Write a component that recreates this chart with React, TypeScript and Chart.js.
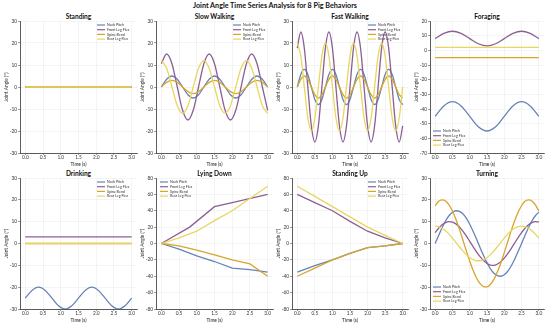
import React, { useEffect, useRef } from "react";
import { Chart, registerables } from "chart.js";

Chart.register(...registerables);

const FONT = "Lato, 'Open Sans', sans-serif";

const SERIES_NAMES = ["Neck Pitch", "Front Leg Flex", "Spine Bend", "Rear Leg Flex"];
const SERIES_COLORS = ["#6683b8", "#8c5f94", "#d6a62a", "#e8d660"];
const X_TICKS = [0, 0.5, 1, 1.5, 2, 2.5, 3];

// Standing
const STAND_T = [0, 0.5, 1, 1.5, 2, 2.5, 3];
const STAND_NECK = [0, 0, 0, 0, 0, 0, 0];
const STAND_FRONT = [0, 0, 0, 0, 0, 0, 0];
const STAND_SPINE = [0, 0, 0, 0, 0, 0, 0];
const STAND_REAR = [0, 0, 0, 0, 0, 0, 0];

// Slow Walking
const SLOW_T = [0, 0.15, 0.3, 0.45, 0.6, 0.75, 0.9, 1.05, 1.2, 1.35, 1.5, 1.65, 1.8, 1.95, 2.1, 2.25, 2.4, 2.55, 2.7, 2.85, 3.0];
const SLOW_NECK = [0, 3.5, 5, 3.5, 0, -3.5, -5, -3.5, 0, 3.5, 5, 3.5, 0, -3.5, -5, -3.5, 0, 3.5, 5, 3.5, 0];
const SLOW_FRONT = [10.6, 15, 10.6, 0, -10.6, -15, -10.6, 0, 10.6, 15, 10.6, 0, -10.6, -15, -10.6, 0, 10.6, 15, 10.6, 0, -10.6];
const SLOW_SPINE = [0, 2.1, 3, 2.1, 0, -2.1, -3, -2.1, 0, 2.1, 3, 2.1, 0, -2.1, -3, -2.1, 0, 2.1, 3, 2.1, 0];
const SLOW_REAR = [12, 8.5, 0, -8.5, -12, -8.5, 0, 8.5, 12, 8.5, 0, -8.5, -12, -8.5, 0, 8.5, 12, 8.5, 0, -8.5, -12];

// Fast Walking
const FAST_T = [0, 0.1, 0.2, 0.3, 0.4, 0.5, 0.6, 0.7, 0.8, 0.9, 1.0, 1.1, 1.2, 1.3, 1.4, 1.5, 1.6, 1.7, 1.8, 1.9, 2.0, 2.1, 2.2, 2.3, 2.4, 2.5, 2.6, 2.7, 2.8, 2.9, 3.0];
const FAST_NECK = [0, 5.7, 8, 5.7, 0, -5.7, -8, -5.7, 0, 5.7, 8, 5.7, 0, -5.7, -8, -5.7, 0, 5.7, 8, 5.7, 0, -5.7, -8, -5.7, 0, 5.7, 8, 5.7, 0, -5.7, -8];
const FAST_FRONT = [17.7, 25, 17.7, 0, -17.7, -25, -17.7, 0, 17.7, 25, 17.7, 0, -17.7, -25, -17.7, 0, 17.7, 25, 17.7, 0, -17.7, -25, -17.7, 0, 17.7, 25, 17.7, 0, -17.7, -25, -17.7];
const FAST_SPINE = [0, 3.5, 5, 3.5, 0, -3.5, -5, -3.5, 0, 3.5, 5, 3.5, 0, -3.5, -5, -3.5, 0, 3.5, 5, 3.5, 0, -3.5, -5, -3.5, 0, 3.5, 5, 3.5, 0, -3.5, -5];
const FAST_REAR = [20, 14.1, 0, -14.1, -20, -14.1, 0, 14.1, 20, 14.1, 0, -14.1, -20, -14.1, 0, 14.1, 20, 14.1, 0, -14.1, -20, -14.1, 0, 14.1, 20, 14.1, 0, -14.1, -20, -14.1, 0];

// Foraging
const FORAGE_T = [0, 0.25, 0.5, 0.75, 1, 1.25, 1.5, 1.75, 2, 2.25, 2.5, 2.75, 3];
const FORAGE_NECK = [-45, -37.9, -35, -37.9, -45, -52.1, -55, -52.1, -45, -37.9, -35, -37.9, -45];
const FORAGE_FRONT = [8, 11.5, 13, 11.5, 8, 4.5, 3, 4.5, 8, 11.5, 13, 11.5, 8];
const FORAGE_SPINE = [-5, -5, -5, -5, -5, -5, -5, -5, -5, -5, -5, -5, -5];
const FORAGE_REAR = [2, 2, 2, 2, 2, 2, 2, 2, 2, 2, 2, 2, 2];

// Drinking
const DRINK_T = [0, 0.1875, 0.375, 0.5625, 0.75, 0.9375, 1.125, 1.3125, 1.5, 1.6875, 1.875, 2.0625, 2.25, 2.4375, 2.625, 2.8125, 3];
const DRINK_NECK = [-25, -21.5, -20, -21.5, -25, -28.5, -30, -28.5, -25, -21.5, -20, -21.5, -25, -28.5, -30, -28.5, -25];
const DRINK_FRONT = [3, 3, 3, 3, 3, 3, 3, 3, 3, 3, 3, 3, 3, 3, 3, 3, 3];
const DRINK_SPINE = [0, 0, 0, 0, 0, 0, 0, 0, 0, 0, 0, 0, 0, 0, 0, 0, 0];
const DRINK_REAR = [0, 0, 0, 0, 0, 0, 0, 0, 0, 0, 0, 0, 0, 0, 0, 0, 0];

// Lying Down
const LIE_T = [0, 0.5, 1, 1.5, 2, 2.5, 3];
const LIE_FRONT_T = [0, 0.8, 1.5, 2, 3];
const LIE_NECK = [0, -7, -15, -22, -30, -32, -35];
const LIE_FRONT = [0, 20, 45, 50, 60];
const LIE_SPINE = [0, -3, -8, -14, -20, -25, -40];
const LIE_REAR = [0, 7, 15, 28, 40, 55, 70];

// Standing Up
const UP_T = [0, 0.5, 1, 1.5, 2, 2.5, 3];
const UP_NECK = [-35, -27, -20, -12, -5, -3, 0];
const UP_FRONT = [60, 50, 40, 27, 15, 7, 0];
const UP_SPINE = [-40, -30, -20, -12, -5, -3, 0];
const UP_REAR = [70, 57.5, 45, 32.5, 20, 10, 0];

// Turning
const TURN_T = [0, 0.1, 0.2, 0.3, 0.4, 0.5, 0.6, 0.7, 0.8, 0.9, 1.0, 1.1, 1.2, 1.3, 1.4, 1.5, 1.6, 1.7, 1.8, 1.9, 2.0, 2.1, 2.2, 2.3, 2.4, 2.5, 2.6, 2.7, 2.8, 2.9, 3.0];
const TURN_NECK = [0, 3.7, 7.2, 10.3, 12.7, 14.3, 15.0, 14.7, 13.6, 11.6, 8.8, 5.5, 1.9, -1.9, -5.5, -8.8, -11.6, -13.6, -14.7, -15.0, -14.3, -12.7, -10.3, -7.2, -3.7, 0, 3.7, 7.2, 10.3, 12.7, 14.3];
const TURN_FRONT = [5, 7.0, 8.6, 9.6, 10.0, 9.8, 9.0, 7.6, 5.7, 3.5, 1.0, -1.5, -3.9, -6.0, -7.8, -9.1, -9.9, -10.0, -9.4, -8.3, -6.7, -4.6, -2.3, 0.2, 2.7, 5.0, 7.0, 8.6, 9.6, 10.0, 9.8];
const TURN_SPINE = [17.3, 19.3, 20.0, 19.5, 17.7, 14.9, 11.1, 6.6, 1.7, -3.3, -8.1, -12.4, -15.9, -18.4, -19.8, -19.9, -18.7, -16.4, -13.1, -8.9, -4.2, 0.8, 5.8, 10.4, 14.3, 17.3, 19.3, 20.0, 19.5, 17.7, 14.9];
const TURN_REAR = [8, 7.7, 7.0, 5.8, 4.3, 2.5, 0.5, -1.5, -3.4, -5.1, -6.5, -7.4, -7.9, -7.9, -7.4, -6.5, -5.1, -3.4, -1.5, 0.5, 2.5, 4.3, 5.8, 7.0, 7.7, 8, 7.7, 7.0, 5.8, 4.3, 2.5];

// Layout
const COL_LEFT = [20, 156, 292, 430];
const COL_WIDTH = [117, 117, 116, 114];
const ROW_TOP = [21, 178];
const ROW_HEIGHT = [132, 131];
const Y_AXIS_W = 16;
const X_AXIS_H = 14;
const PAD_T = 4;
const PAD_R = 4;

type Panel = {
  title: string;
  times: number[][];
  series: number[][];
  yMin: number;
  yMax: number;
  yStep: number;
  legend: "ur" | "ul" | "ll";
  smooth: boolean;
  col: number;
  row: number;
};

const PANELS: Panel[] = [
  { title: "Standing", times: [STAND_T, STAND_T, STAND_T, STAND_T], series: [STAND_NECK, STAND_FRONT, STAND_SPINE, STAND_REAR], yMin: -30, yMax: 30, yStep: 10, legend: "ur", smooth: false, col: 0, row: 0 },
  { title: "Slow Walking", times: [SLOW_T, SLOW_T, SLOW_T, SLOW_T], series: [SLOW_NECK, SLOW_FRONT, SLOW_SPINE, SLOW_REAR], yMin: -30, yMax: 30, yStep: 10, legend: "ur", smooth: true, col: 1, row: 0 },
  { title: "Fast Walking", times: [FAST_T, FAST_T, FAST_T, FAST_T], series: [FAST_NECK, FAST_FRONT, FAST_SPINE, FAST_REAR], yMin: -30, yMax: 30, yStep: 10, legend: "ur", smooth: true, col: 2, row: 0 },
  { title: "Foraging", times: [FORAGE_T, FORAGE_T, FORAGE_T, FORAGE_T], series: [FORAGE_NECK, FORAGE_FRONT, FORAGE_SPINE, FORAGE_REAR], yMin: -70, yMax: 20, yStep: 10, legend: "ll", smooth: true, col: 3, row: 0 },
  { title: "Drinking", times: [DRINK_T, DRINK_T, DRINK_T, DRINK_T], series: [DRINK_NECK, DRINK_FRONT, DRINK_SPINE, DRINK_REAR], yMin: -30, yMax: 30, yStep: 10, legend: "ur", smooth: true, col: 0, row: 1 },
  { title: "Lying Down", times: [LIE_T, LIE_FRONT_T, LIE_T, LIE_T], series: [LIE_NECK, LIE_FRONT, LIE_SPINE, LIE_REAR], yMin: -80, yMax: 80, yStep: 20, legend: "ul", smooth: false, col: 1, row: 1 },
  { title: "Standing Up", times: [UP_T, UP_T, UP_T, UP_T], series: [UP_NECK, UP_FRONT, UP_SPINE, UP_REAR], yMin: -80, yMax: 80, yStep: 20, legend: "ur", smooth: false, col: 2, row: 1 },
  { title: "Turning", times: [TURN_T, TURN_T, TURN_T, TURN_T], series: [TURN_NECK, TURN_FRONT, TURN_SPINE, TURN_REAR], yMin: -30, yMax: 30, yStep: 10, legend: "ll", smooth: true, col: 3, row: 1 },
];

const cornerLegend = {
  id: "cornerLegend",
  afterDatasetsDraw(chart: any, _args: any, opts: any) {
    const pos = opts && opts.position;
    if (!pos) return;
    const { ctx, chartArea } = chart;
    const rowH = 4.7;
    let x0: number;
    let y0: number;
    if (pos === "ur") {
      x0 = chartArea.right - 40;
      y0 = chartArea.top + 4;
    } else if (pos === "ul") {
      x0 = chartArea.left + 4;
      y0 = chartArea.top + 4;
    } else {
      x0 = chartArea.left + 3;
      y0 = chartArea.bottom - 22;
    }
    ctx.save();
    ctx.font = `3.6px ${FONT}`;
    ctx.textBaseline = "middle";
    ctx.textAlign = "left";
    SERIES_NAMES.forEach((name, i) => {
      const y = y0 + i * rowH;
      ctx.strokeStyle = SERIES_COLORS[i];
      ctx.lineWidth = 1.2;
      ctx.beginPath();
      ctx.moveTo(x0, y);
      ctx.lineTo(x0 + 8, y);
      ctx.stroke();
      ctx.fillStyle = "#333";
      ctx.fillText(name, x0 + 10, y);
    });
    ctx.restore();
  },
};

function buildConfig(p: Panel): any {
  const datasets = p.series.map((vals, i) => ({
    label: SERIES_NAMES[i],
    data: vals.map((v, k) => ({ x: p.times[i][k], y: v })),
    borderColor: SERIES_COLORS[i],
    backgroundColor: SERIES_COLORS[i],
    borderWidth: 1.3,
    pointRadius: 0,
    fill: false,
    tension: 0,
    cubicInterpolationMode: p.smooth ? "monotone" : "default",
    order: 3 - i,
  }));
  return {
    type: "line",
    data: { datasets },
    plugins: [cornerLegend],
    options: {
      responsive: false,
      animation: false,
      devicePixelRatio: 1,
      layout: { padding: { top: PAD_T, right: PAD_R, left: 0, bottom: 0 } },
      plugins: {
        legend: { display: false },
        tooltip: { enabled: false },
        title: { display: false },
        cornerLegend: { position: p.legend },
      },
      scales: {
        x: {
          type: "linear",
          min: -0.15,
          max: 3.15,
          afterBuildTicks: (s: any) => {
            s.ticks = X_TICKS.map((v) => ({ value: v }));
          },
          afterFit: (s: any) => {
            s.height = X_AXIS_H;
          },
          ticks: {
            font: { size: 4.8, family: FONT },
            color: "#333",
            padding: 0,
            maxRotation: 0,
            autoSkip: false,
            callback: (v: any) => Number(v).toFixed(1),
          },
          grid: { color: "#ececec", lineWidth: 0.6, tickLength: 2, tickColor: "#555", tickWidth: 0.6 },
          border: { color: "#333", width: 0.8 },
          title: { display: true, text: "Time (s)", font: { size: 4.8, family: FONT }, color: "#222", padding: 0 },
        },
        y: {
          type: "linear",
          min: p.yMin,
          max: p.yMax,
          afterFit: (s: any) => {
            s.width = Y_AXIS_W;
          },
          ticks: {
            stepSize: p.yStep,
            font: { size: 4.8, family: FONT },
            color: "#333",
            padding: 1,
            callback: (v: any) => String(v),
          },
          grid: { color: "#ececec", lineWidth: 0.6, tickLength: 2, tickColor: "#555", tickWidth: 0.6 },
          border: { color: "#333", width: 0.8 },
          title: { display: true, text: "Joint Angle (°)", font: { size: 4.8, family: FONT }, color: "#222", padding: 0 },
        },
      },
    },
  };
}

function PanelChart({ p }: { p: Panel }) {
  const ref = useRef<HTMLCanvasElement>(null);
  useEffect(() => {
    if (!ref.current) return;
    const chart = new Chart(ref.current, buildConfig(p));
    return () => chart.destroy();
  }, [p]);
  const L = COL_LEFT[p.col];
  const T = ROW_TOP[p.row];
  const W = COL_WIDTH[p.col];
  const H = ROW_HEIGHT[p.row];
  const cw = Y_AXIS_W + W + PAD_R;
  const ch = PAD_T + H + X_AXIS_H;
  return (
    <>
      <div
        style={{
          position: "absolute",
          left: L,
          width: W,
          top: T - 9,
          height: 8,
          lineHeight: "8px",
          textAlign: "center",
          fontFamily: FONT,
          fontWeight: 700,
          fontSize: 6.6,
          color: "#111",
          whiteSpace: "nowrap",
        }}
      >
        {p.title}
      </div>
      <canvas
        ref={ref}
        width={cw}
        height={ch}
        style={{ position: "absolute", left: L - Y_AXIS_W, top: T - PAD_T, width: cw, height: ch }}
      />
    </>
  );
}

export default function App() {
  return (
    <div style={{ position: "fixed", left: 0, top: 0, width: 550, height: 328, background: "#fff", overflow: "hidden" }}>
      <div
        style={{
          position: "absolute",
          left: 0,
          top: 2,
          width: 550,
          height: 8,
          lineHeight: "8px",
          textAlign: "center",
          fontFamily: FONT,
          fontWeight: 700,
          fontSize: 7.2,
          color: "#111",
          whiteSpace: "nowrap",
        }}
      >
        Joint Angle Time Series Analysis for 8 Pig Behaviors
      </div>
      {PANELS.map((p) => (
        <PanelChart key={p.title} p={p} />
      ))}
    </div>
  );
}
